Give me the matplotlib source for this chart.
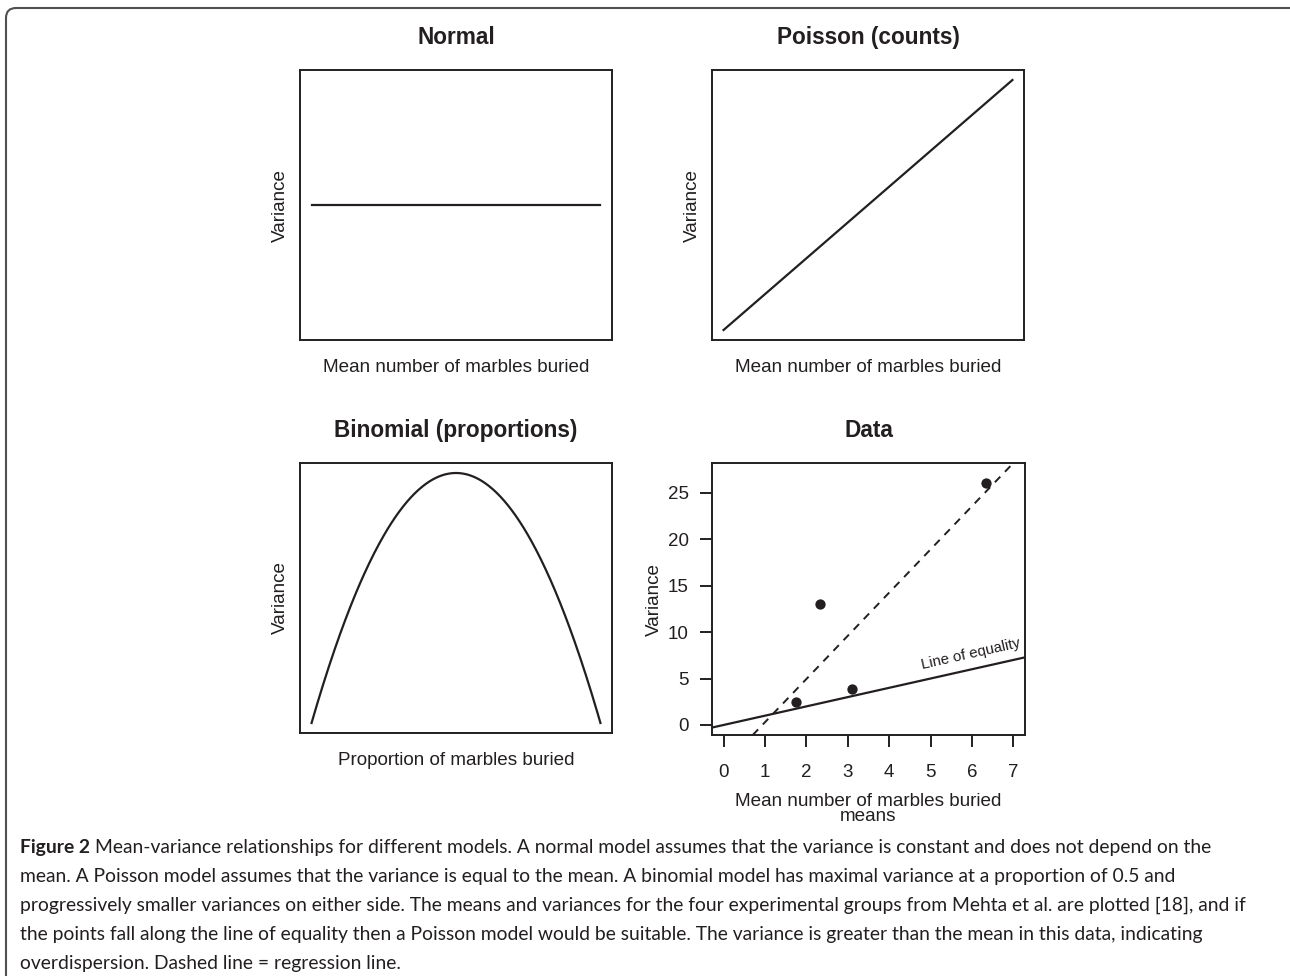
import matplotlib
matplotlib.use('Agg')
import matplotlib.pyplot as plt
import numpy as np
from matplotlib.patches import FancyBboxPatch
from matplotlib.transforms import IdentityTransform

plt.rcParams['font.family'] = ['Liberation Sans', 'DejaVu Sans']
INK = '#231f20'

# ---------------- data ----------------
titles = ["Normal", "Poisson (counts)", "Binomial (proportions)", "Data"]
xlabels = ["Mean number of marbles buried", "Mean number of marbles buried",
           "Proportion of marbles buried", "Mean number of marbles buried"]
ylabel = "Variance"

normal_mean = [0.0, 1.0]
normal_var = [1.0, 1.0]
poisson_mean = [0.0, 1.0]
poisson_var = [0.0, 1.0]
binom_prop = np.linspace(0, 1, 301)
binom_var = binom_prop * (1 - binom_prop)

data_means = [1.75, 2.34, 3.09, 6.34]
data_vars = [2.5, 13.0, 3.87, 26.1]
data_xticks = [0, 1, 2, 3, 4, 5, 6, 7]
data_yticks = [0, 5, 10, 15, 20, 25]

caption_lines = [
    "Mean-variance relationships for different models. A normal model assumes that the variance is constant and does not depend on the",
    "mean. A Poisson model assumes that the variance is equal to the mean. A binomial model has maximal variance at a proportion of 0.5 and",
    "progressively smaller variances on either side. The means and variances for the four experimental groups from Mehta et al. are plotted [18], and if",
    "the points fall along the line of equality then a Poisson model would be suitable. The variance is greater than the mean in this data, indicating",
    "overdispersion. Dashed line = regression line.",
]

# ---------------- figure ----------------
W, H = 1290, 976
fig = plt.figure(figsize=(W / 100, H / 100), dpi=100)


def ax_at(x0, y0, x1, y1):
    return fig.add_axes([x0 / W, 1 - y1 / H, (x1 - x0) / W, (y1 - y0) / H])


axes = [ax_at(300, 70, 612, 340), ax_at(712, 70, 1024, 340),
        ax_at(300, 463, 612, 733), ax_at(712, 463, 1025, 735)]

for i, ax in enumerate(axes):
    for s in ax.spines.values():
        s.set_linewidth(1.4)
        s.set_color(INK)
    ax.set_title(titles[i], fontsize=16.3, fontweight='bold', color=INK, pad=19)

LW = 1.6

# Normal
ax = axes[0]
ax.plot(normal_mean, normal_var, color=INK, lw=LW)
ax.set_xlim(-0.04, 1.04)
ax.set_ylim(0.0, 2.0)

# Poisson
ax = axes[1]
ax.plot(poisson_mean, poisson_var, color=INK, lw=LW)
ax.set_xlim(-0.04, 1.04)
ax.set_ylim(-0.04, 1.04)

# Binomial
ax = axes[2]
ax.plot(binom_prop, binom_var, color=INK, lw=LW)
ax.set_xlim(-0.04, 1.04)
ax.set_ylim(-0.01, 0.26)

for i, ax in enumerate(axes[:3]):
    ax.set_xticks([])
    ax.set_yticks([])
    ax.set_xlabel(xlabels[i], fontsize=13.6, color=INK)
    ax.xaxis.set_label_coords(0.5, -0.071)
    ax.set_ylabel(ylabel, fontsize=13.6, color=INK)
    ax.yaxis.set_label_coords(-0.037, 0.5)

# Data
ax = axes[3]
ax.scatter(data_means, data_vars, s=55, color=INK, zorder=3, linewidths=0)
ax.axline((0, 0), slope=1, color=INK, lw=LW)
slope, intercept = np.polyfit(data_means, data_vars, 1)
ax.axline((0, intercept), slope=slope, color=INK, lw=1.4, dashes=(4, 3.5))
ax.set_xlim(-0.28, 7.28)
ax.set_ylim(-1.08, 28.2)
ax.set_xticks(data_xticks)
ax.set_yticks(data_yticks)
ax.tick_params(axis='x', length=8.6, width=1.4, pad=12, labelsize=13.5, colors=INK)
ax.tick_params(axis='y', length=8.6, width=1.4, pad=8, labelsize=13.5, colors=INK)
ax.text(5.99, 7.25, "Line of equality", fontsize=10.8, color=INK,
        rotation=45, transform_rotates_text=True, rotation_mode='anchor',
        ha='center', va='baseline')
ax.set_ylabel(ylabel, fontsize=13.6, color=INK)
ax.yaxis.set_label_coords(-0.157, 0.5)
ax.set_xlabel(xlabels[3], fontsize=13.6, color=INK, va='baseline')
ax.xaxis.set_label_coords(0.5, -(806 - 735) / 272)
ax.text(0.5, -(821 - 735) / 272, "means", transform=ax.transAxes, fontsize=13.6,
        color=INK, ha='center', va='baseline')

# ---------------- border ----------------
fig.add_artist(FancyBboxPatch((6, -60), 1320, H - 8 + 60,
                              boxstyle="round,pad=0,rounding_size=10",
                              transform=IdentityTransform(), fill=False,
                              ec='#505050', lw=1.5))

# ---------------- caption ----------------
cap_font = ['Lato', 'DejaVu Sans']
cap_size = 13.9
baselines = [853, 882, 911, 940, 969]
renderer = fig.canvas.get_renderer()
bold = fig.text(20 / W, 1 - baselines[0] / H, "Figure 2", fontsize=cap_size,
                fontweight='bold', family=cap_font, color=INK, va='baseline')
bb = bold.get_window_extent(renderer)
space = 5
for i, line in enumerate(caption_lines):
    x0 = (bb.x1 + space) if i == 0 else 20
    fig.text(x0 / W, 1 - baselines[i] / H, line, fontsize=cap_size,
             family=cap_font, color=INK, va='baseline')

fig.savefig('out.png', dpi=100)
